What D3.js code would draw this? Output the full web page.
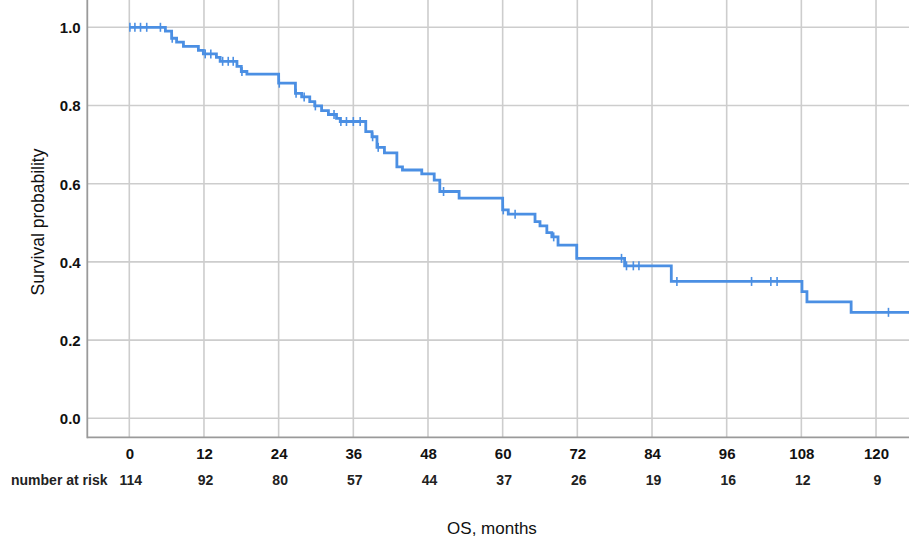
<!DOCTYPE html>
<html>
<head>
<meta charset="utf-8">
<script src="https://cdn.jsdelivr.net/npm/d3@7/dist/d3.min.js"></script>
<style>
  html, body { margin: 0; padding: 0; background: #ffffff; }
  svg { display: block; }
</style>
</head>
<body>
<svg id="chart" width="909" height="543"></svg>
<script>
// ---- data ----
const eventTimes = [5.8, 6.8, 7.6, 8.7, 11.1, 11.9, 14.0, 14.6, 17.3, 18.0, 18.9,
  24.0, 26.7, 27.7, 29.0, 29.8, 30.9, 32.0, 33.3, 33.9, 38.0, 39.0, 39.8, 41.0,
  43.0, 43.9, 47.0, 49.0, 49.9, 53.0, 60.0, 60.9, 65.2, 66.0, 67.1, 67.9, 68.9,
  71.9, 79.6, 87.1, 108.1, 108.9, 116.0];
const survivalAfter = [0.990, 0.972, 0.962, 0.951, 0.941, 0.932, 0.923, 0.913, 0.900, 0.887, 0.880,
  0.857, 0.831, 0.822, 0.810, 0.799, 0.787, 0.777, 0.767, 0.759, 0.733, 0.720, 0.693, 0.679,
  0.643, 0.635, 0.625, 0.609, 0.580, 0.563, 0.533, 0.522, 0.503, 0.492, 0.475, 0.464, 0.443,
  0.409, 0.390, 0.350, 0.324, 0.298, 0.271];
const censorTimes = [0.1, 0.9, 1.8, 2.8, 5.0, 6.9, 12.2, 13.1, 15.0, 15.9, 16.7, 18.1,
  24.1, 26.8, 28.1, 29.9, 32.9, 34.0, 34.9, 36.0, 37.1, 39.1, 40.0, 50.5, 60.1, 62.0,
  68.2, 79.1, 79.9, 81.0, 81.9, 88.0, 100.0, 103.1, 104.1, 122.0];
const xTicks = [0, 12, 24, 36, 48, 60, 72, 84, 96, 108, 120];
const yTicks = [0.0, 0.2, 0.4, 0.6, 0.8, 1.0];
const riskTimes = [0, 12, 24, 36, 48, 60, 72, 84, 96, 108, 120];
const riskCounts = [114, 92, 80, 57, 44, 37, 26, 19, 16, 12, 9];
const xMax = 125.3;

// ---- scales ----
const svg = d3.select("#chart");
const pLeft = 87.3, pRight = 909, pTop = 0, pBottom = 437.3;
const x = d3.scaleLinear().domain([-6.75, xMax]).range([pLeft, pRight]);
const y = d3.scaleLinear().domain([-0.0486, 1.0698]).range([pBottom, pTop]);

// ---- grid ----
const grid = svg.append("g");
grid.selectAll("line.h").data(yTicks).join("line")
  .attr("x1", pLeft).attr("x2", pRight)
  .attr("y1", d => y(d)).attr("y2", d => y(d))
  .attr("stroke", "#cdcdcd").attr("stroke-width", 1.6);
grid.selectAll("line.v").data(xTicks).join("line")
  .attr("x1", d => x(d)).attr("x2", d => x(d))
  .attr("y1", pTop).attr("y2", pBottom)
  .attr("stroke", "#cdcdcd").attr("stroke-width", 1.6);

// ---- axes ----
const font = "'Liberation Sans', Arial, sans-serif";
const xAxis = d3.axisBottom(x).tickValues(xTicks).tickSize(0).tickPadding(0).tickFormat(d3.format("d"));
const gx = svg.append("g").attr("transform", `translate(0,${pBottom})`).call(xAxis);
gx.select(".domain").remove();
gx.selectAll("text").attr("y", 21.5).attr("dy", null)
  .attr("font-family", font)
  .attr("font-size", 15).attr("font-weight", "bold").attr("fill", "#111");

const yAxis = d3.axisLeft(y).tickValues(yTicks).tickSize(0).tickPadding(0).tickFormat(d3.format(".1f"));
const gy = svg.append("g").attr("transform", `translate(80.7,0)`).call(yAxis);
gy.select(".domain").remove();
gy.selectAll("text").attr("x", 0).attr("dy", "0.36em")
  .attr("font-family", font)
  .attr("font-size", 15).attr("font-weight", "bold").attr("fill", "#111");

svg.append("line").attr("x1", pLeft).attr("x2", pLeft).attr("y1", pTop).attr("y2", pBottom + 1)
  .attr("stroke", "#9a9a9a").attr("stroke-width", 1.8);
svg.append("line").attr("x1", pLeft).attr("x2", pRight).attr("y1", pBottom).attr("y2", pBottom)
  .attr("stroke", "#9a9a9a").attr("stroke-width", 1.8);

// ---- KM curve ----
const pts = [[0, 1]];
eventTimes.forEach((t, i) => pts.push([t, survivalAfter[i]]));
pts.push([xMax, survivalAfter[survivalAfter.length - 1]]);
const line = d3.line().x(d => x(d[0])).y(d => y(d[1])).curve(d3.curveStepAfter);
const color = "#4b8fe3";
svg.append("path").datum(pts).attr("d", line)
  .attr("fill", "none").attr("stroke", color).attr("stroke-width", 2.8);

function survAt(t) {
  let s = 1;
  eventTimes.forEach((e, i) => { if (e <= t) s = survivalAfter[i]; });
  return s;
}
svg.append("g").selectAll("line").data(censorTimes).join("line")
  .attr("x1", d => x(d)).attr("x2", d => x(d))
  .attr("y1", d => y(survAt(d)) - 4.5).attr("y2", d => y(survAt(d)) + 4.5)
  .attr("stroke", color).attr("stroke-width", 1.6);

// ---- risk table ----
svg.append("text").attr("x", 11).attr("y", 485)
  .attr("font-family", font).attr("font-size", 14).attr("font-weight", "bold")
  .attr("fill", "#222").text("number at risk");
svg.append("g").selectAll("text").data(riskCounts).join("text")
  .attr("x", (d, i) => x(riskTimes[i]) + 1.5).attr("y", 485)
  .attr("text-anchor", "middle")
  .attr("font-family", font).attr("font-size", 14).attr("font-weight", "bold")
  .attr("fill", "#222").text(d => d);

// ---- axis titles ----
svg.append("text").attr("x", 492).attr("y", 534).attr("text-anchor", "middle")
  .attr("font-family", font).attr("font-size", 17).attr("fill", "#111").text("OS, months");
svg.append("text").attr("transform", "translate(44,222) rotate(-90)").attr("text-anchor", "middle")
  .attr("font-family", font).attr("font-size", 17.5).attr("fill", "#111").text("Survival probability");
</script>
</body>
</html>
